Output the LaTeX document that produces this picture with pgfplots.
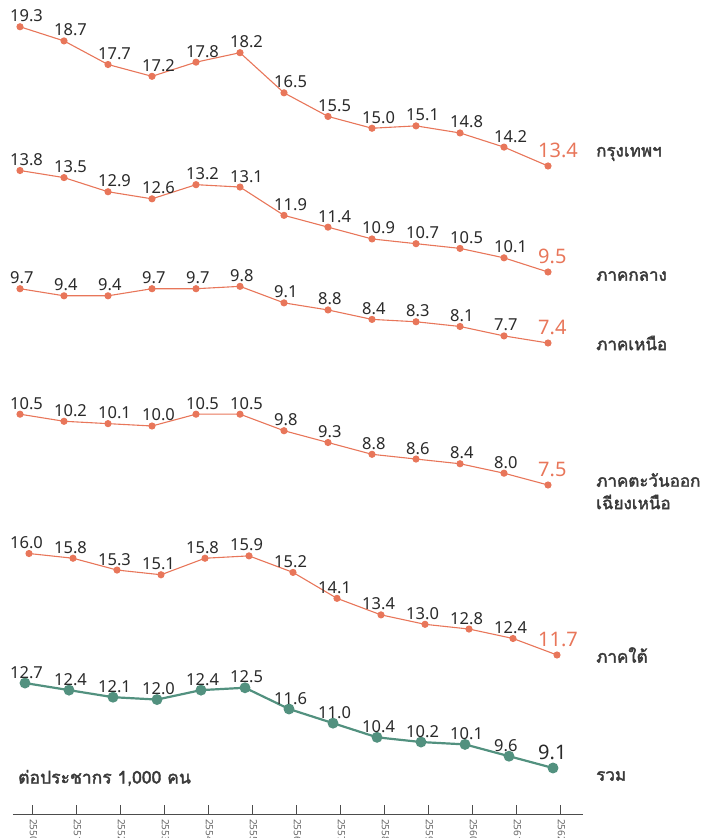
\documentclass[border=0pt]{standalone}
\usepackage{fontspec}
\setmainfont{Noto Sans}
\newfontfamily\thaifont[Script=Thai,FakeBold=2.2]{Loma}
\usepackage{pgfplots}
\pgfplotsset{compat=1.18}
\usepackage{pgfplotstable}
\definecolor{org}{HTML}{E8765A}
\definecolor{grn}{HTML}{52917F}
\definecolor{txt}{HTML}{2A2A2A}
\definecolor{lab}{HTML}{3A3A3A}

\pgfplotstableread{
i bkk cen nor ne sou tot
0 19.3 13.8 9.7 10.5 16.0 12.7
1 18.7 13.5 9.4 10.2 15.8 12.4
2 17.7 12.9 9.4 10.1 15.3 12.1
3 17.2 12.6 9.7 10.0 15.1 12.0
4 17.8 13.2 9.7 10.5 15.8 12.4
5 18.2 13.1 9.8 10.5 15.9 12.5
6 16.5 11.9 9.1 9.8 15.2 11.6
7 15.5 11.4 8.8 9.3 14.1 11.0
8 15.0 10.9 8.4 8.8 13.4 10.4
9 15.1 10.7 8.3 8.6 13.0 10.2
10 14.8 10.5 8.1 8.4 12.8 10.1
11 14.2 10.1 7.7 8.0 12.4 9.6
12 13.4 9.5 7.4 7.5 11.7 9.1
}\data

\pgfplotsset{
 panel/.style={x=44pt, y=23.6pt, xmin=0, xmax=12, axis lines=none, clip=false, anchor=south west},
 numfmt/.style={/pgf/number format/fixed, /pgf/number format/fixed zerofill, /pgf/number format/precision=1, /pgf/number format/assume math mode=true},
 lbl/.style={draw=none, mark=none, nodes near coords, point meta=y, numfmt,
   skip coords between index={12}{13},
   nodes near coords style={font=\fontsize{16.5}{16.5}\selectfont, text=txt, anchor=base west, inner sep=0pt, xshift=#1, yshift=5pt}},
 lastlbl/.style 2 args={draw=none, mark=none, nodes near coords, point meta=y, numfmt,
   skip coords between index={0}{12},
   nodes near coords style={font=\fontsize{20}{20}\selectfont, text=#2, anchor=base west, inner sep=0pt, xshift=#1, yshift=8pt}},
 oline/.style={org, line width=1.1pt, mark=*, mark size=3pt},
 gline/.style={grn, line width=2.2pt, mark=*, mark size=4.3pt},
}

\begin{document}
\begin{tikzpicture}
\path[use as bounding box] (0pt,0pt) rectangle (718pt,838pt);

% Bangkok
\begin{axis}[panel, at={(20pt,672pt)}, ymin=13.4, ymax=19.3]
\addplot[oline] table[x=i,y=bkk]{\data};
\addplot[lbl=-10pt] table[x=i,y=bkk]{\data};
\addplot[lastlbl={-10pt}{org}] table[x=i,y=bkk]{\data};
\end{axis}

% Central
\begin{axis}[panel, at={(20pt,566pt)}, ymin=9.5, ymax=13.8]
\addplot[oline] table[x=i,y=cen]{\data};
\addplot[lbl=-10pt] table[x=i,y=cen]{\data};
\addplot[lastlbl={-10pt}{org}] table[x=i,y=cen]{\data};
\end{axis}

% North
\begin{axis}[panel, at={(20pt,495pt)}, ymin=7.4, ymax=9.8]
\addplot[oline] table[x=i,y=nor]{\data};
\addplot[lbl=-10pt] table[x=i,y=nor]{\data};
\addplot[lastlbl={-10pt}{org}] table[x=i,y=nor]{\data};
\end{axis}

% Northeast
\begin{axis}[panel, at={(20pt,353pt)}, ymin=7.5, ymax=10.5]
\addplot[oline] table[x=i,y=ne]{\data};
\addplot[lbl=-10pt] table[x=i,y=ne]{\data};
\addplot[lastlbl={-10pt}{org}] table[x=i,y=ne]{\data};
\end{axis}

% South
\begin{axis}[panel, at={(29pt,183pt)}, ymin=11.7, ymax=16.0]
\addplot[oline] table[x=i,y=sou]{\data};
\addplot[lbl=-19pt] table[x=i,y=sou]{\data};
\addplot[lastlbl={-19pt}{org}] table[x=i,y=sou]{\data};
\end{axis}

% Total
\begin{axis}[panel, at={(25pt,70pt)}, ymin=9.1, ymax=12.7]
\addplot[gline] table[x=i,y=tot]{\data};
\addplot[lbl=-15pt] table[x=i,y=tot]{\data};
\addplot[lastlbl={-15pt}{txt}] table[x=i,y=tot]{\data};
\end{axis}

% bottom axis
\begin{axis}[anchor=south west, at={(13pt,24pt)}, x=44pt, y=10pt,
  xmin=-0.44, xmax=12.52, ymin=0, ymax=1,
  axis x line*=bottom, axis y line=none,
  axis line style={draw=black!70, line width=0.9pt},
  xtick={0,...,12}, xticklabels={2550,2551,2552,2553,2554,2555,2556,2557,2558,2559,2560,2561,2562},
  tick align=inside, major tick length=9pt,
  tick style={draw=black!70, line width=0.8pt},
  xticklabel style={rotate=-90, anchor=west, font=\fontsize{10}{10}\selectfont, text=black!60, xshift=1.5pt, yshift=1pt},
  ]
\addplot[draw=none] coordinates {(0,0)};
\end{axis}

% region labels
\begin{scope}[every node/.style={anchor=west, inner sep=0pt, text=lab, font=\thaifont\fontsize{17}{19}\selectfont}]
\node at (596pt,684pt) {กรุงเทพฯ};
\node at (596pt,562pt) {ภาคกลาง};
\node at (596pt,495pt) {ภาคเหนือ};
\node at (596pt,358pt) {ภาคตะวันออก};
\node at (596pt,336pt) {เฉียงเหนือ};
\node at (596pt,183pt) {ภาคใต้};
\node at (596pt,62pt) {รวม};
\node[font=\thaifont\fontsize{17.5}{19}\selectfont] at (18pt,60pt) {ต่อประชากร 1,000 คน};
\end{scope}
\end{tikzpicture}
\end{document}
